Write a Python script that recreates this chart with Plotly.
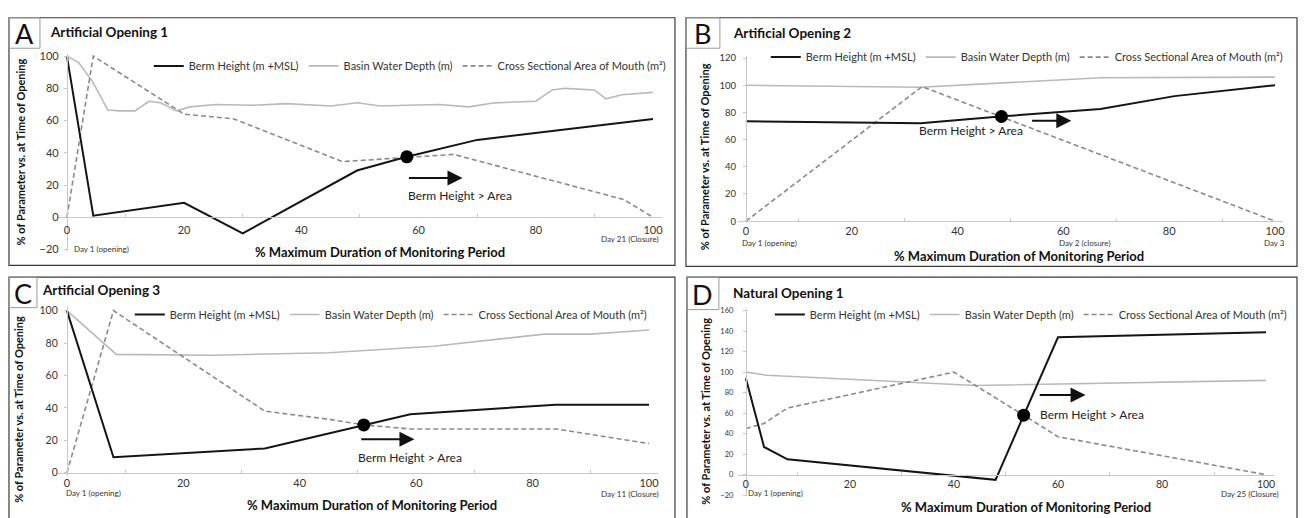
import plotly.graph_objects as go

# ---------------- data ----------------
legend_names = ["Berm Height (m +MSL)", "Basin Water Depth (m)", "Cross Sectional Area of Mouth (m²)"]
x_tick_vals = [0, 20, 40, 60, 80, 100]

# Panel A – Artificial Opening 1
a_berm_x = [0, 4.5, 20, 30, 49.5, 58, 70, 100]
a_berm_y = [100, 1, 9, -10, 29, 37.5, 48, 61]
a_basin_x = [0, 2, 4.4, 7, 9, 11.6, 14, 16, 18.7, 21, 25.5, 31.7, 37.5, 45, 49.6, 53.4, 58, 63.5, 68.6, 73, 80, 82.8, 85, 90, 92, 94.7, 100]
a_basin_y = [100, 96, 84, 66.5, 66, 66, 72, 71, 66, 68.5, 70, 69.5, 70.5, 69, 71, 69, 69.5, 70, 68.5, 71, 72, 79, 80, 79, 73.5, 76, 77.5]
a_area_x = [0, 4.5, 20, 28.5, 47, 58, 66, 95, 100]
a_area_y = [0, 100, 64, 61, 34.5, 37, 39, 11, 0]
a_cross = (58, 37.5)

# Panel B – Artificial Opening 2
b_berm_x = [0, 33, 48, 67, 81, 100]
b_berm_y = [73.5, 72, 77, 82.5, 92, 100]
b_basin_x = [0, 33, 45, 67, 100]
b_basin_y = [100, 98.5, 101, 105.5, 106]
b_area_x = [0, 33.3, 100]
b_area_y = [0, 99, 0]
b_cross = (48.3, 77)

# Panel C – Artificial Opening 3
c_berm_x = [0, 8, 34, 51, 59, 84, 100]
c_berm_y = [100, 9.5, 15, 29.5, 36, 42, 42]
c_basin_x = [0, 8.5, 25, 45, 63, 73, 82, 90, 100]
c_basin_y = [100, 73, 72.5, 74, 78, 82, 85.5, 85.5, 88]
c_area_x = [0, 8, 34, 45, 51, 59, 84, 100]
c_area_y = [0, 100, 38, 33, 29.5, 27, 27, 18]
c_cross = (51, 29.5)

# Panel D – Natural Opening 1
d_berm_x = [0, 3.5, 8, 48, 60, 100]
d_berm_y = [94, 27, 15, -5, 134, 139]
d_basin_x = [0, 4, 20, 40, 44, 100]
d_basin_y = [100, 97, 93, 87.5, 87, 92]
d_area_x = [0, 3.5, 8, 40, 53.4, 60, 100]
d_area_y = [45, 50, 65, 100, 58, 37, 0]
d_cross = (53.4, 58)

a_y_ticks = [-20, 0, 20, 40, 60, 80, 100]
b_y_ticks = [0, 20, 40, 60, 80, 100, 120]
c_y_ticks = [0, 20, 40, 60, 80, 100]
d_y_ticks = [-20, 0, 20, 40, 60, 80, 100, 120, 140, 160]

# ---------------- layout helpers ----------------
W, H = 1304, 518
FONT = "Lato"
TXT = "#222222"
AXC = "#c8c8c8"


def pxx(p):
    return p / W


def pxy(p):
    return (H - p) / H


# pixel geometry of each panel (layout only)
geo = {
    "A": dict(x0=67, x100=654, ya=0, ypa=216, yb=100, ypb=52, yr=[-21, 101.5]),
    "B": dict(x0=747, x100=1277, ya=0, ypa=220, yb=120, ypb=54, yr=[-1.5, 121.5]),
    "C": dict(x0=67, x100=650, ya=0, ypa=476, yb=100, ypb=311, yr=[-2, 102]),
    "D": dict(x0=747, x100=1268, ya=0, ypa=478, yb=160, ypb=311, yr=[-21, 161.5]),
}
XR = [-1.5, 101.5]

fig = go.Figure()

series = {
    "A": (a_berm_x, a_berm_y, a_basin_x, a_basin_y, a_area_x, a_area_y, a_cross, a_y_ticks),
    "B": (b_berm_x, b_berm_y, b_basin_x, b_basin_y, b_area_x, b_area_y, b_cross, b_y_ticks),
    "C": (c_berm_x, c_berm_y, c_basin_x, c_basin_y, c_area_x, c_area_y, c_cross, c_y_ticks),
    "D": (d_berm_x, d_berm_y, d_basin_x, d_basin_y, d_area_x, d_area_y, d_cross, d_y_ticks),
}
style = {
    "A": dict(ytf=11, xtf=11, ystand=3, xstand=3, leg=(149, 62)),
    "B": dict(ytf=9.5, xtf=11, ystand=5, xstand=0, leg=(767, 53)),
    "C": dict(ytf=10.5, xtf=11, ystand=4, xstand=0, leg=(130, 315)),
    "D": dict(ytf=7.5, xtf=10.5, ystand=8, xstand=0, leg=(771, 315)),
}

layout_axes = {}
for i, key in enumerate(["A", "B", "C", "D"]):
    n = i + 1
    sfx = "" if n == 1 else str(n)
    xref, yref = "x" + sfx, "y" + sfx
    legname = "legend" + sfx
    g = geo[key]
    bx, by, wx, wy, ax_, ay_, cross, yticks = series[key]
    st = style[key]

    fig.add_trace(go.Scatter(x=wx, y=wy, mode="lines", name=legend_names[1],
                             line=dict(color="#b9b9b9", width=1.6),
                             xaxis=xref, yaxis=yref, legend=legname, legendrank=2))
    fig.add_trace(go.Scatter(x=ax_, y=ay_, mode="lines", name=legend_names[2],
                             line=dict(color="#8a8a8a", width=1.6, dash="5px,3px"),
                             xaxis=xref, yaxis=yref, legend=legname, legendrank=3))
    fig.add_trace(go.Scatter(x=bx, y=by, mode="lines", name=legend_names[0],
                             line=dict(color="#151515", width=2),
                             xaxis=xref, yaxis=yref, legend=legname, legendrank=1))
    fig.add_trace(go.Scatter(x=[cross[0]], y=[cross[1]], mode="markers",
                             marker=dict(color="black", size=13), showlegend=False,
                             xaxis=xref, yaxis=yref, hoverinfo="skip"))

    sx = (g["x100"] - g["x0"]) / 100.0
    sy = (g["ypa"] - g["ypb"]) / (g["yb"] - g["ya"])

    def pix(v, g=g, sy=sy):
        return g["ypa"] - (v - g["ya"]) * sy

    xdom = [pxx(g["x0"] + XR[0] * sx), pxx(g["x0"] + XR[1] * sx)]
    ydom = [pxy(pix(g["yr"][0])), pxy(pix(g["yr"][1]))]

    layout_axes["xaxis" + sfx] = dict(
        domain=xdom, range=XR, anchor="free", position=pxy(pix(0)),
        showline=True, linecolor=AXC, linewidth=1, showgrid=False, zeroline=False,
        tickmode="array", tickvals=x_tick_vals, ticks="", ticklabelstandoff=st["xstand"],
        tickfont=dict(family=FONT, size=st["xtf"], color="#333"),
        minor=dict(tickmode="array", tickvals=[10, 30, 50, 70, 90], ticks="inside",
                   ticklen=3, tickcolor=AXC),
    )
    layout_axes["yaxis" + sfx] = dict(
        domain=ydom, range=g["yr"], anchor="free", position=pxx(g["x0"]),
        showline=True, linecolor=AXC, linewidth=1, showgrid=False, zeroline=False,
        tickmode="array", tickvals=yticks, ticks="outside", ticklen=3, tickcolor=AXC,
        ticklabelstandoff=st["ystand"],
        tickfont=dict(family=FONT, size=st["ytf"], color="#333"),
    )
    layout_axes[legname] = dict(
        x=pxx(st["leg"][0]), y=pxy(st["leg"][1]), xanchor="left", yanchor="middle",
        orientation="h", bgcolor="rgba(0,0,0,0)", borderwidth=0,
        font=dict(family=FONT, size=11, color="#333"),
        itemwidth=30,
    )

fig.update_layout(**layout_axes)

# ---------------- panel frames, letters, titles ----------------
frames = [(9, 13, 676, 265), (687, 13, 1299, 266), (9, 277, 676, 530), (688, 277, 1299, 530)]
letter_boxes = [(9, 13, 40, 44, "A"), (687, 13, 721, 44, "B"), (9, 277, 37, 308, "C"), (688, 277, 720, 310, "D")]
titles = [(48, 27, "Artificial Opening 1"), (732, 29, "Artificial Opening 2"),
          (40, 290, "Artificial Opening 3"), (732, 293, "Natural Opening 1")]

shapes = []
annotations = []
for (x0, y0, x1, y1) in frames:
    shapes.append(dict(type="rect", xref="paper", yref="paper", x0=pxx(x0), x1=pxx(x1),
                       y0=pxy(y1), y1=pxy(y0), line=dict(color="#3a3a3a", width=1.2)))
for (x0, y0, x1, y1, lt) in letter_boxes:
    shapes.append(dict(type="rect", xref="paper", yref="paper", x0=pxx(x0), x1=pxx(x1),
                       y0=pxy(y1), y1=pxy(y0), line=dict(color="#9a9a9a", width=1)))
    annotations.append(dict(text=lt, xref="paper", yref="paper", x=pxx((x0 + x1) / 2),
                            y=pxy((y0 + y1) / 2 + 1), xanchor="center", yanchor="middle",
                            showarrow=False, font=dict(family=FONT, size=27, color="#111")))
for (x, y, t) in titles:
    annotations.append(dict(text="<b>" + t + "</b>", xref="paper", yref="paper", x=pxx(x), y=pxy(y),
                            xanchor="left", yanchor="middle", showarrow=False,
                            font=dict(family=FONT, size=13.5, color="#111")))

# axis titles
xt = "<b>% Maximum Duration of Monitoring Period</b>"
yt = "<b>% of Parameter vs. at Time of Opening</b>"
for (x, y) in [(381, 251), (1021, 255), (373, 509), (1028, 511)]:
    annotations.append(dict(text=xt, xref="paper", yref="paper", x=pxx(x), y=pxy(y),
                            xanchor="center", yanchor="middle", showarrow=False,
                            font=dict(family=FONT, size=13, color="#111")))
for (x, y) in [(20, 149), (705, 154), (19, 411), (707, 413)]:
    annotations.append(dict(text=yt, xref="paper", yref="paper", x=pxx(x), y=pxy(y),
                            xanchor="center", yanchor="middle", showarrow=False, textangle=-90,
                            font=dict(family=FONT, size=11, color="#111")))

# day labels (pixel positions converted to paper coordinates)
day_labels = [
    (72, 248, "Day 1 (opening)", "left"),
    (662, 238, "Day 21 (Closure)", "right"),
    (771, 242, "Day 1 (opening)", "center"),
    (1087, 242, "Day 2 (closure)", "center"),
    (1276, 242, "Day 3", "center"),
    (64, 497, "Day 1 (opening)", "left"),
    (662, 498, "Day 11 (Closure)", "right"),
    (747, 497, "Day 1 (opening)", "left"),
    (1252, 498, "Day 25 (Closure)", "center"),
]
for (x, y, t, anc) in day_labels:
    annotations.append(dict(text=t, xref="paper", yref="paper", x=pxx(x), y=pxy(y), xanchor=anc,
                            yanchor="middle", showarrow=False,
                            font=dict(family=FONT, size=8, color="#333")))

# "Berm Height > Area" notes and arrows
notes = [
    ("x", "y", 67.0, 13.4, 58.1, 67.5, 24.4),
    ("x2", "y2", 42.5, 66.5, 53.8, 61.5, 73.8),
    ("x3", "y3", 59.0, 9.7, 50.3, 59.7, 20.6),
    ("x4", "y4", 66.6, 58.4, 56.2, 65.3, 77.6),
]
for (xr, yr, tx, ty, ax0, ax1, ay) in notes:
    annotations.append(dict(text="Berm Height &gt; Area", xref=xr, yref=yr, x=tx, y=ty,
                            xanchor="center", yanchor="middle", showarrow=False,
                            font=dict(family=FONT, size=12, color="#222")))
    annotations.append(dict(text="", xref=xr, yref=yr, x=ax1, y=ay, ax=ax0, ay=ay,
                            axref=xr, ayref=yr, showarrow=True, arrowhead=2, arrowsize=1.5,
                            arrowwidth=2, arrowcolor="#111"))

fig.update_layout(
    width=W, height=H, margin=dict(l=0, r=0, t=0, b=0),
    paper_bgcolor="white", plot_bgcolor="white",
    shapes=shapes, annotations=annotations,
    font=dict(family=FONT, color=TXT), hovermode=False,
)

fig.write_html("out.html", config={"displayModeBar": False},
               post_script="document.body.style.margin='0px';document.body.style.padding='0px';document.body.style.overflow='hidden';")
